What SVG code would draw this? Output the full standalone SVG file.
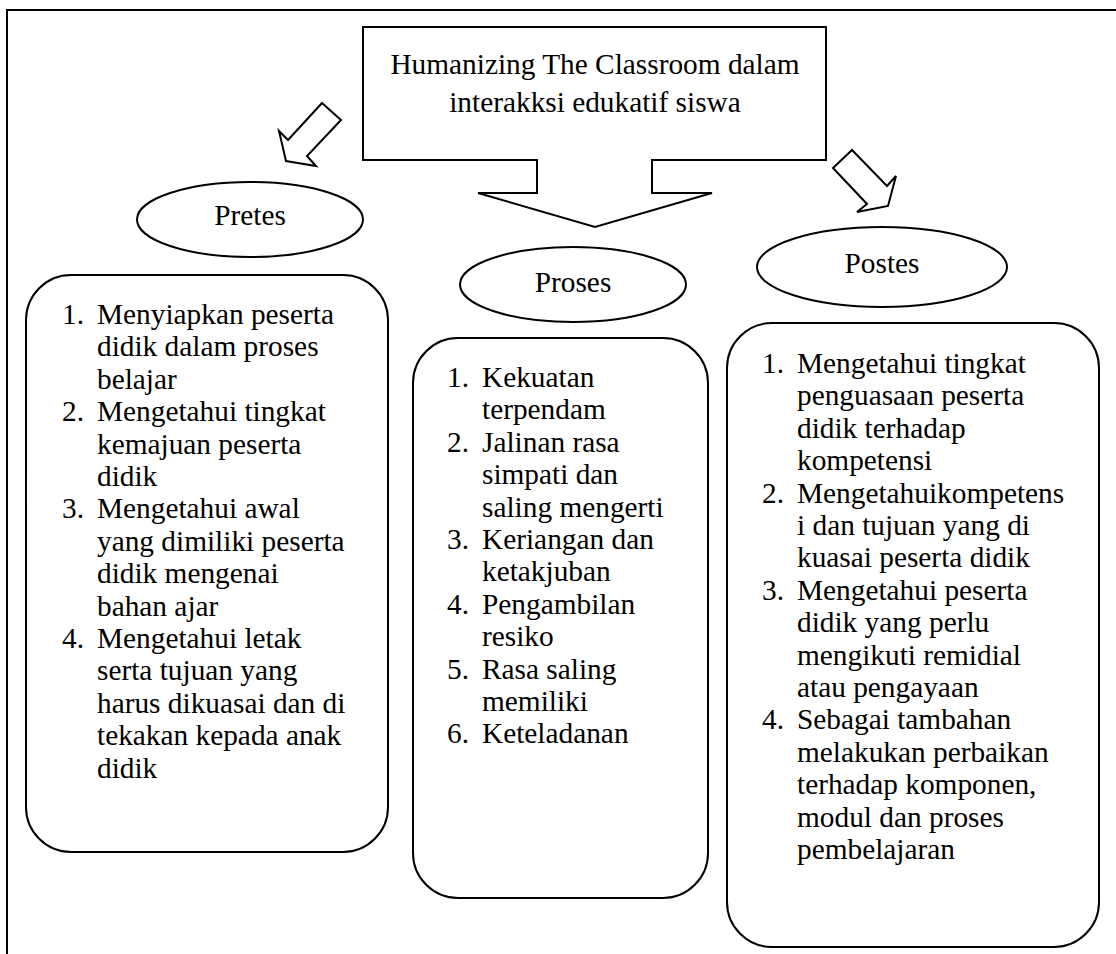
<svg xmlns="http://www.w3.org/2000/svg" width="1116" height="954" viewBox="0 0 1116 954">
  <style>
    .ln { fill: none; stroke: #000; stroke-width: 2; }
    .shape { fill: #fff; stroke: #000; stroke-width: 2; stroke-linejoin: miter; }
    .t { font-family: "Liberation Serif", "Times New Roman", serif; font-size: 29.33px; fill: #000; }
    .c { text-anchor: middle; }
  </style>

  <!-- page frame: top rule and left rule -->
  <g id="frame">
    <path class="ln" d="M7,954 V10 H1116"/>
  </g>

  <!-- connectors: block arrows -->
  <g id="connectors">
    <polygon class="shape" points="322,103 341,120 307,156 316,166 286,161 279,131 288,140"/>
    <polygon class="shape" points="852,150 887,186 896,176 888,206 857,212 867,204 833,168"/>
  </g>

  <!-- title callout with downward arrow -->
  <g id="title">
    <path class="shape" d="M363,27 H826 V160 H652 V193 H712 L595,227 L478,193 H537 V160 H363 Z"/>
    <text class="t c" x="595" y="74">Humanizing The Classroom dalam</text>
    <text class="t c" x="595" y="112">interakksi edukatif siswa</text>
  </g>

  <!-- phase labels -->
  <g id="pretes">
    <ellipse class="shape" cx="250" cy="219.5" rx="113" ry="37.5"/>
    <text class="t c" x="250" y="225">Pretes</text>
  </g>
  <g id="proses">
    <ellipse class="shape" cx="573" cy="284.5" rx="113" ry="37.5"/>
    <text class="t c" x="573" y="292">Proses</text>
  </g>
  <g id="postes">
    <ellipse class="shape" cx="882" cy="267" rx="125" ry="40"/>
    <text class="t c" x="882" y="273">Postes</text>
  </g>

  <!-- Pretes list -->
  <g id="pretes-list">
    <rect class="shape" x="26" y="275" width="362" height="577" rx="45" ry="45"/>
    <text class="t">
      <tspan x="62" y="324">1.</tspan><tspan x="97" y="324">Menyiapkan peserta</tspan>
      <tspan x="97" y="356.4">didik dalam proses</tspan>
      <tspan x="97" y="388.8">belajar</tspan>
      <tspan x="62" y="421.2">2.</tspan><tspan x="97" y="421.2">Mengetahui tingkat</tspan>
      <tspan x="97" y="453.6">kemajuan peserta</tspan>
      <tspan x="97" y="486">didik</tspan>
      <tspan x="62" y="518.4">3.</tspan><tspan x="97" y="518.4">Mengetahui awal</tspan>
      <tspan x="97" y="550.8">yang dimiliki peserta</tspan>
      <tspan x="97" y="583.2">didik mengenai</tspan>
      <tspan x="97" y="615.6">bahan ajar</tspan>
      <tspan x="62" y="648">4.</tspan><tspan x="97" y="648">Mengetahui letak</tspan>
      <tspan x="97" y="680.4">serta tujuan yang</tspan>
      <tspan x="97" y="712.8">harus dikuasai dan di</tspan>
      <tspan x="97" y="745.2">tekakan kepada anak</tspan>
      <tspan x="97" y="777.6">didik</tspan>
    </text>
  </g>

  <!-- Proses list -->
  <g id="proses-list">
    <rect class="shape" x="413" y="338" width="295" height="560" rx="45" ry="45"/>
    <text class="t">
      <tspan x="447" y="387">1.</tspan><tspan x="482" y="387">Kekuatan</tspan>
      <tspan x="482" y="419.4">terpendam</tspan>
      <tspan x="447" y="451.8">2.</tspan><tspan x="482" y="451.8">Jalinan rasa</tspan>
      <tspan x="482" y="484.2">simpati dan</tspan>
      <tspan x="482" y="516.6">saling mengerti</tspan>
      <tspan x="447" y="549">3.</tspan><tspan x="482" y="549">Keriangan dan</tspan>
      <tspan x="482" y="581.4">ketakjuban</tspan>
      <tspan x="447" y="613.8">4.</tspan><tspan x="482" y="613.8">Pengambilan</tspan>
      <tspan x="482" y="646.2">resiko</tspan>
      <tspan x="447" y="678.6">5.</tspan><tspan x="482" y="678.6">Rasa saling</tspan>
      <tspan x="482" y="711">memiliki</tspan>
      <tspan x="447" y="743.4">6.</tspan><tspan x="482" y="743.4">Keteladanan</tspan>
    </text>
  </g>

  <!-- Postes list -->
  <g id="postes-list">
    <rect class="shape" x="727" y="323" width="372" height="624" rx="45" ry="45"/>
    <text class="t">
      <tspan x="762" y="373">1.</tspan><tspan x="797" y="373">Mengetahui tingkat</tspan>
      <tspan x="797" y="405.4">penguasaan peserta</tspan>
      <tspan x="797" y="437.8">didik terhadap</tspan>
      <tspan x="797" y="470.2">kompetensi</tspan>
      <tspan x="762" y="502.6">2.</tspan><tspan x="797" y="502.6">Mengetahuikompetens</tspan>
      <tspan x="797" y="535">i dan tujuan yang di</tspan>
      <tspan x="797" y="567.4">kuasai peserta didik</tspan>
      <tspan x="762" y="599.8">3.</tspan><tspan x="797" y="599.8">Mengetahui peserta</tspan>
      <tspan x="797" y="632.2">didik yang perlu</tspan>
      <tspan x="797" y="664.6">mengikuti remidial</tspan>
      <tspan x="797" y="697">atau pengayaan</tspan>
      <tspan x="762" y="729.4">4.</tspan><tspan x="797" y="729.4">Sebagai tambahan</tspan>
      <tspan x="797" y="761.8">melakukan perbaikan</tspan>
      <tspan x="797" y="794.2">terhadap komponen,</tspan>
      <tspan x="797" y="826.6">modul dan proses</tspan>
      <tspan x="797" y="859">pembelajaran</tspan>
    </text>
  </g>
</svg>
